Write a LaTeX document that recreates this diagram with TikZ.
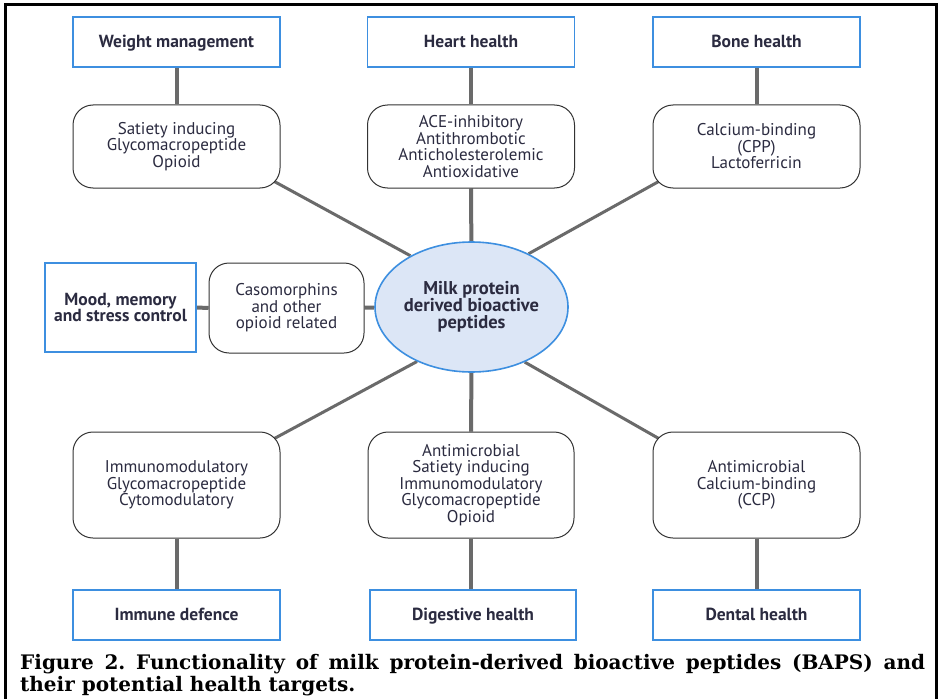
\documentclass[tikz,border=0pt]{standalone}
\usepackage{fontspec}
\setmainfont{PT Sans}
\newfontfamily\capfont{DejaVu Serif}
\usetikzlibrary{shapes.geometric,calc}
\definecolor{txt}{HTML}{2B2B40}
\definecolor{bblue}{HTML}{3D8FE0}
\definecolor{efill}{HTML}{DCE6F6}
\definecolor{lgray}{HTML}{6A6A6A}
\pgfdeclarelayer{bg}
\pgfdeclarelayer{lines}
\pgfsetlayers{bg,lines,main}
\tikzset{
  target/.style={draw=bblue, line width=1.6pt, fill=white, minimum width=207pt, minimum height=50pt,
    inner sep=0pt, text=txt, font=\fontsize{17.5}{16.5}\selectfont\bfseries},
  onerow/.style={text height=13.5pt, text depth=2pt},
  peptide/.style={draw=black!80, line width=1pt, fill=white, rounded corners=20pt, minimum width=207pt,
    inner sep=0pt, text=txt, align=center, font=\fontsize{17}{16.5}\selectfont},
  hub/.style={ellipse, draw=bblue, line width=1.6pt, fill=efill, minimum width=193pt, minimum height=130pt,
    inner sep=0pt, text=txt, align=center, font=\fontsize{18.5}{17}\selectfont\bfseries},
  vlink/.style={draw=lgray, line width=4pt},
  dlink/.style={draw=lgray, line width=3pt},
}
\begin{document}
\begin{tikzpicture}[x=1pt,y=-1pt]
\begin{pgfonlayer}{bg}
\fill[white] (0,0) rectangle (941,698);
\end{pgfonlayer}
\useasboundingbox (0,0) rectangle (941,698);
\draw[line width=3pt] (5,700) -- (5,5) -- (936,5) -- (936,700);

% hub
\node[hub] (hub) at (471.5,307) {Milk protein\\derived bioactive\\peptides};

% top row
\node[target, onerow] (weight) at (176.5,42) {Weight management};
\node[target, onerow] (heart) at (471,42) {Heart health};
\node[target, onerow] (bone) at (756.5,42) {Bone health};
\node[peptide, minimum height=83pt] (pwt) at (176.5,146.5) {Satiety inducing\\Glycomacropeptide\\Opioid};
\node[peptide, minimum height=83pt] (pheart) at (471,146.5) {ACE-inhibitory\\Antithrombotic\\Anticholesterolemic\\Antioxidative};
\node[peptide, minimum height=83pt] (pbone) at (756.5,146.5) {Calcium-binding\\(CPP)\\Lactoferricin};

% middle row
\node[target, minimum width=151pt, minimum height=89pt, align=center] (mood) at (120.5,307.5) {Mood, memory\\and stress control};
\node[peptide, minimum width=155pt, minimum height=90pt] (caso) at (286.5,308) {Casomorphins\\and other\\opioid related};

% bottom row
\node[peptide, minimum height=106pt] (pimm) at (176.5,485) {Immunomodulatory\\Glycomacropeptide\\Cytomodulatory};
\node[peptide, minimum width=206pt, minimum height=106pt] (pdig) at (471,485) {Antimicrobial\\Satiety inducing\\Immunomodulatory\\Glycomacropeptide\\Opioid};
\node[peptide, minimum height=106pt] (pdent) at (756.5,485) {Antimicrobial\\Calcium-binding\\(CCP)};
\node[target, onerow] (immune) at (176.5,615) {Immune defence};
\node[target, onerow, minimum width=206pt] (digest) at (473,615) {Digestive health};
\node[target, onerow] (dental) at (756.5,615) {Dental health};

% connectors
\begin{pgfonlayer}{lines}
\draw[vlink] (weight) -- (pwt);
\draw[vlink] (heart) -- (pheart);
\draw[vlink] (bone) -- (pbone);
\draw[vlink] (pheart) -- (hub);
\draw[vlink] (mood) -- (caso);
\draw[vlink] (caso) -- (hub);
\draw[vlink] (hub) -- (pdig);
\draw[vlink] (pimm) -- (pimm |- immune.north);
\draw[vlink] (pdig) -- (pdig |- digest.north);
\draw[vlink] (pdent) -- (pdent |- dental.north);
\draw[dlink] (hub.140.3) -- ($(pwt.south east)+(-8,-8)$);
\draw[dlink] (hub.43.7) -- ($(pbone.south west)+(8,-8)$);
\draw[dlink] (hub.225.3) -- ($(pimm.north east)+(-8,8)$);
\draw[dlink] (hub.-46.3) -- ($(pdent.north west)+(8,8)$);
\end{pgfonlayer}

% caption
\node[anchor=north west, inner sep=0pt, text=black] (cap) at (20,654)
  {\parbox{905pt}{\frenchspacing\capfont\bfseries\fontsize{20}{22}\selectfont
   Figure 2. Functionality of milk protein-derived bioactive peptides (BAPS) and\linebreak their potential health targets.}};
\end{tikzpicture}
\end{document}
